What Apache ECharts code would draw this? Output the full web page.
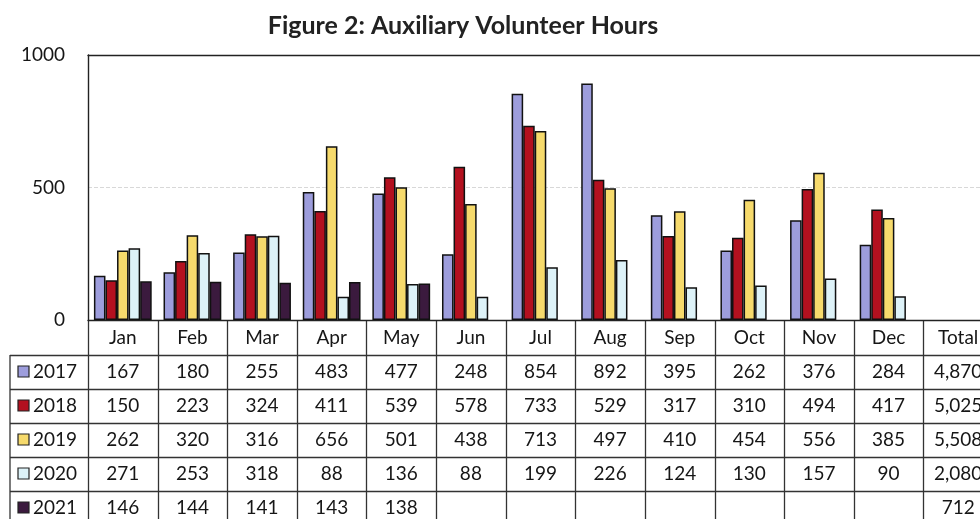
<!DOCTYPE html>
<html><head><meta charset="utf-8">
<script src="https://cdn.jsdelivr.net/npm/echarts@6/dist/echarts.min.js"></script>
<style>html,body{margin:0;padding:0;background:#fff;overflow:hidden}#c{width:980px;height:519px}</style>
</head><body><div id="c"></div>
<script>
const categories = ['Jan','Feb','Mar','Apr','May','Jun','Jul','Aug','Sep','Oct','Nov','Dec','Total'];
const years = ['2017','2018','2019','2020','2021'];
const v2017 = [167,180,255,483,477,248,854,892,395,262,376,284];
const v2018 = [150,223,324,411,539,578,733,529,317,310,494,417];
const v2019 = [262,320,316,656,501,438,713,497,410,454,556,385];
const v2020 = [271,253,318,88,136,88,199,226,124,130,157,90];
const v2021 = [146,144,141,143,138,null,null,null,null,null,null,null];
const totals = ['4,870','5,025','5,508','2,080','712'];
const yTicks = [0,500,1000];
const colors = ['#9d9ddc','#b3111f','#f6da6c','#ddf2f8','#3b1a3e'];

const seriesValues = [v2017,v2018,v2019,v2020,v2021];
const FONT = 'Lato';
const FS = 19;
const TXT = '#161616';
const chart = echarts.init(document.getElementById('c'), null, {renderer:'canvas'});
const option = {
  animation:false,
  backgroundColor:'#fff',
  title:{text:'Figure 2: Auxiliary Volunteer Hours', left:458, textAlign:'center', top:8,
    textStyle:{fontFamily:FONT, fontWeight:'bold', fontSize:25, color:'#222'}},
  grid:{left:88, width:905, top:55, height:265, containLabel:false, outerBoundsMode:'none'},
  xAxis:[{type:'category', data:categories, position:'bottom',
    axisLine:{show:true, lineStyle:{color:'#222', width:1.4}},
    axisTick:{show:false},
    axisLabel:{margin:8, fontFamily:FONT, fontSize:FS, color:TXT, interval:0}},
    {type:'category', data:categories, position:'top',
    axisLine:{show:true, lineStyle:{color:'#222', width:1.4}},
    axisTick:{show:false}, axisLabel:{show:false}}],
  yAxis:{type:'value', min:yTicks[0], max:yTicks[yTicks.length-1], interval:500,
    axisLine:{show:true, lineStyle:{color:'#222', width:1.4}},
    axisTick:{show:false},
    axisLabel:{margin:23, fontFamily:FONT, fontSize:FS, color:TXT, formatter:v=>String(v)},
    splitLine:{show:true, lineStyle:{color:'#d8d8d8', type:'dashed', width:1}}},
  series: years.map((y,i)=>({name:y, type:'bar', data:seriesValues[i],
    barGap:'0%', barCategoryGap:'17%',
    itemStyle:{color:colors[i], borderColor:'#111', borderWidth:1.5}}))
};
chart.setOption(option);

// table below the axis, laid out from the axis scales
const c0 = chart.convertToPixel({xAxisIndex:0}, 0);
const c1 = chart.convertToPixel({xAxisIndex:0}, 1);
const band = c1 - c0;
const xLeft = c0 - band/2;
const y0 = chart.convertToPixel({yAxisIndex:0}, 0);
const headerH = 35, rowH = 34, tableLeft = 10, bottomY = 530;
const lineStyle = {stroke:'#333', lineWidth:1.3};
const g = [];
for (let i=0;i<=categories.length;i++){
  const x = Math.round(xLeft + i*band) + 0.5;
  g.push({type:'line', shape:{x1:x, y1:y0, x2:x, y2:bottomY}, style:lineStyle, silent:true});
}
g.push({type:'line', shape:{x1:tableLeft, y1:y0+headerH, x2:tableLeft, y2:bottomY}, style:lineStyle, silent:true});
for (let r=0;r<years.length;r++){
  const yy = Math.round(y0 + headerH + r*rowH) + 0.5;
  g.push({type:'line', shape:{x1:tableLeft, y1:yy, x2:1000, y2:yy}, style:lineStyle, silent:true});
  const cy = y0 + headerH + r*rowH + rowH/2;
  g.push({type:'rect', shape:{x:18, y:cy-6, width:11, height:11}, style:{fill:colors[r], stroke:'#222', lineWidth:1.2}, silent:true});
  g.push({type:'text', x:33, y:cy, style:{text:years[r], font:FS+'px '+FONT, fill:TXT, textVerticalAlign:'middle', textAlign:'left'}, silent:true});
  const vals = seriesValues[r];
  for (let i=0;i<vals.length;i++){
    if (vals[i]==null) continue;
    const cx = chart.convertToPixel({xAxisIndex:0}, i);
    g.push({type:'text', x:cx, y:cy, style:{text:String(vals[i]), font:FS+'px '+FONT, fill:TXT, textAlign:'center', textVerticalAlign:'middle'}, silent:true});
  }
  const tx = chart.convertToPixel({xAxisIndex:0}, categories.length-1);
  g.push({type:'text', x:tx, y:cy, style:{text:totals[r], font:FS+'px '+FONT, fill:TXT, textAlign:'center', textVerticalAlign:'middle'}, silent:true});
}
chart.setOption({graphic:g});
</script></body></html>
